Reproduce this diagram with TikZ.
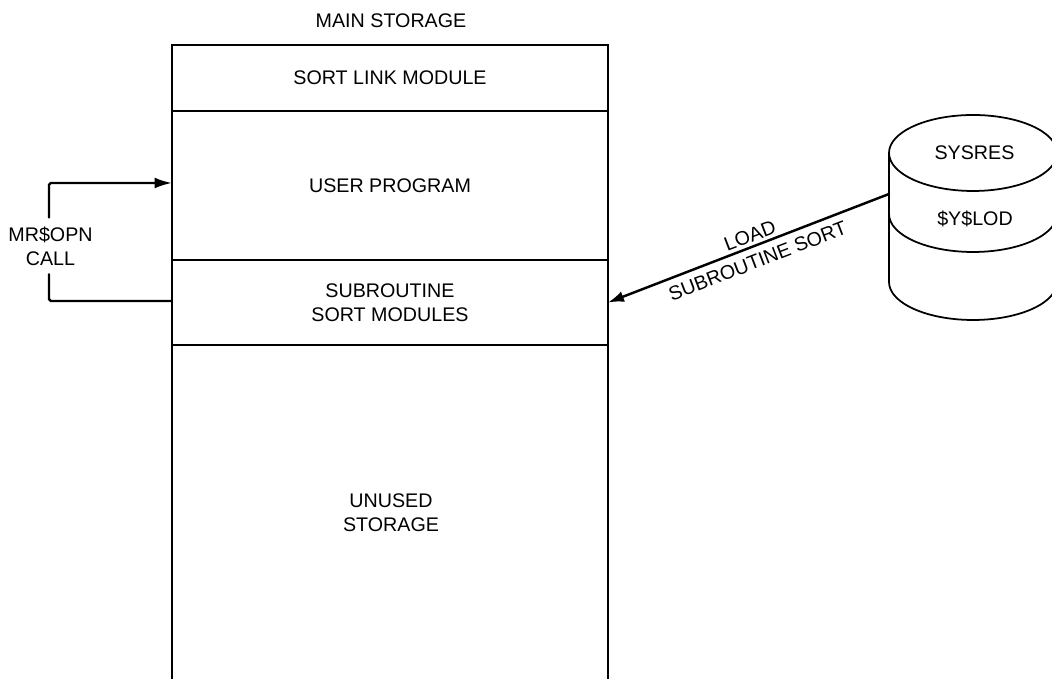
\documentclass[tikz,border=0pt]{standalone}
\usepackage{fontspec}
\setmainfont{Liberation Sans}
\usetikzlibrary{arrows.meta, positioning}
\tikzset{
  lbl/.style={font=\fontsize{11.2}{13.6}\selectfont, align=center, inner sep=1pt},
  sbox/.style={draw, line width=1pt, minimum width=8.72cm, outer sep=0pt, inner sep=0pt},
  arr/.style={line width=1.4pt, line cap=round, rounded corners=1pt},
  disk/.style={line width=1pt},
}
\begin{document}
\begin{tikzpicture}[every node/.style={lbl}]
  \clip (0,0) rectangle (21.04,13.58);
  % storage stack
  \node[sbox, minimum height=1.32cm] (link) at (7.8,12.02) {SORT LINK MODULE};
  \node[sbox, minimum height=2.98cm, below=0pt of link] (user) {USER PROGRAM};
  \node[sbox, minimum height=1.70cm, below=0pt of user] (sub) {SUBROUTINE\\SORT MODULES};
  \coordinate (unusedl) at (3.44,0);
  \coordinate (unusedr) at (12.16,0);
  \draw[line width=1pt] (sub.south west) -- (unusedl);
  \draw[line width=1pt] (sub.south east) -- (unusedr);
  \node (unused) at (7.82,3.32) {UNUSED\\STORAGE};
  \node (mainlbl) at (7.82,13.16) {MAIN STORAGE};

  % disk
  \draw[disk] (19.46,10.52) ellipse (1.68cm and 0.76cm);
  \draw[disk] (17.78,10.52) -- (17.78,7.94)
    arc[start angle=180, end angle=360, x radius=1.68cm, y radius=0.76cm];
  \draw[disk] (17.78,9.30)
    arc[start angle=180, end angle=360, x radius=1.68cm, y radius=0.76cm];
  \node (sysres) at (19.49,10.52) {SYSRES};
  \node (ylod) at (19.5,9.2) {\$Y\$LOD};
  \coordinate (diskout) at (17.78,9.70);

  % call loop
  \node[inner ysep=5pt] (call) at (1.01,8.66) {MR\$OPN\\CALL};
  \coordinate (callup) at (0.98,9.92);
  \coordinate (calldn) at (0.98,7.56);
  \draw[arr, -{Latex[length=3.5mm,width=2.2mm]}] (call.north -| callup) -- (callup) -- (callup -| user.west);
  \draw[arr] (call.south -| calldn) -- (calldn) -- (calldn -| sub.west);

  % load
  \draw[arr, -{Latex[length=3.2mm,width=2.2mm]}] (diskout) -- (sub.east);
  \node[rotate=21] (loadlbl) at (15.0,8.87) {LOAD};
  \node[rotate=21] (sortlbl) at (15.15,8.36) {SUBROUTINE SORT};
\end{tikzpicture}
\end{document}
